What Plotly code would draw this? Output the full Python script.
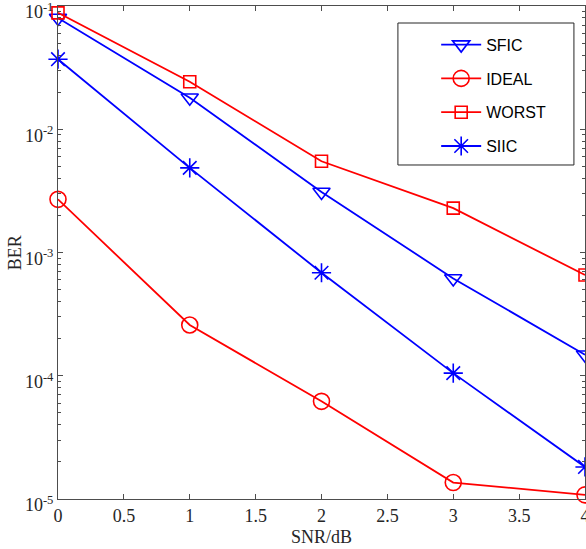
import plotly.graph_objects as go

snr = [0, 1, 2, 3, 4]
sfic = [0.080, 0.0180, 3.1e-3, 6.16e-4, 1.48e-4]
ideal = [2.7e-3, 2.58e-4, 6.2e-5, 1.36e-5, 1.08e-5]
worst = [0.088, 0.0243, 5.5e-3, 2.29e-3, 6.56e-4]
siic = [0.037, 4.86e-3, 6.85e-4, 1.05e-4, 1.82e-5]

x_ticks = [0, 0.5, 1, 1.5, 2, 2.5, 3, 3.5, 4]
x_ticktext = ["0", "0.5", "1", "1.5", "2", "2.5", "3", "3.5", "4"]
y_ticks = [1e-5, 1e-4, 1e-3, 1e-2, 1e-1]
y_ticktext = ["10<sup>-5</sup>", "10<sup>-4</sup>", "10<sup>-3</sup>", "10<sup>-2</sup>", "10<sup>-1</sup>"]
y_minor = [m * d for d in [1e-5, 1e-4, 1e-3, 1e-2] for m in range(2, 10)]

BLUE = "#0000FF"
RED = "#FF0000"
AX = "#4d4d4d"
TXT = "#262626"

series = [
    ("SFIC", sfic, BLUE, "triangle-down-open", 15),
    ("IDEAL", ideal, RED, "circle-open", 16),
    ("WORST", worst, RED, "square-open", 12),
    ("SIIC", siic, BLUE, "asterisk-open", 16),
]

fig = go.Figure()
for i, (name, vals, col, sym, sz) in enumerate(series):
    fig.add_trace(go.Scatter(
        x=snr, y=vals, name=name, mode="lines+markers",
        line=dict(color=col, width=1.8),
        marker=dict(symbol=sym, size=sz, color=col, line=dict(color=col, width=1.6)),
        cliponaxis=False, legendgroup=f"g{i}",
    ))

fig.add_shape(type="rect", xref="paper", yref="paper",
              x0=0.645, x1=0.979, y0=0.6775, y1=0.9655,
              line=dict(color=TXT, width=1), fillcolor="white", layer="below")

fig.add_annotation(text="SNR/dB", xref="paper", yref="paper", x=0.5, y=-0.078,
                   xanchor="center", yanchor="middle", showarrow=False,
                   font=dict(family="Liberation Serif", size=18, color=TXT))
fig.add_annotation(text="BER", xref="paper", yref="paper", x=-0.082, y=0.5,
                   xanchor="center", yanchor="middle", showarrow=False, textangle=-90,
                   font=dict(family="Liberation Serif", size=18, color=TXT))

fig.update_layout(
    width=586, height=549,
    margin=dict(l=58, r=1, t=6, b=50, autoexpand=False),
    paper_bgcolor="white", plot_bgcolor="white",
    font=dict(family="Liberation Serif", size=18, color=TXT),
    showlegend=True,
    legend=dict(x=0.7176, y=0.956, xanchor="left", yanchor="top",
                bgcolor="rgba(0,0,0,0)", borderwidth=0,
                font=dict(family="Liberation Sans", size=16, color="#000000"),
                traceorder="grouped", tracegroupgap=10, itemwidth=40),
    xaxis=dict(range=[0, 4], tickvals=x_ticks, ticktext=x_ticktext, automargin=False,
               ticks="inside", ticklen=5, tickcolor=AX, showline=True, linecolor=AX,
               linewidth=1, mirror="ticks", showgrid=False, zeroline=False,
               ticklabeloverflow="allow",
               tickfont=dict(family="Liberation Serif", size=18, color=TXT)),
    yaxis=dict(type="log", range=[-5, -1], tickvals=y_ticks, ticktext=y_ticktext, automargin=False,
               ticks="inside", ticklen=5, tickcolor=AX, showline=True, linecolor=AX,
               linewidth=1, mirror="ticks", showgrid=False, zeroline=False,
               ticklabeloverflow="allow", ticklabelshift=6,
               minor=dict(tickvals=y_minor, ticks="inside", ticklen=3, tickcolor=AX, showgrid=False),
               tickfont=dict(family="Liberation Serif", size=18, color=TXT)),
)

fig.write_html("out.html", config={"displayModeBar": False},
               post_script="document.body.style.margin='0';")
